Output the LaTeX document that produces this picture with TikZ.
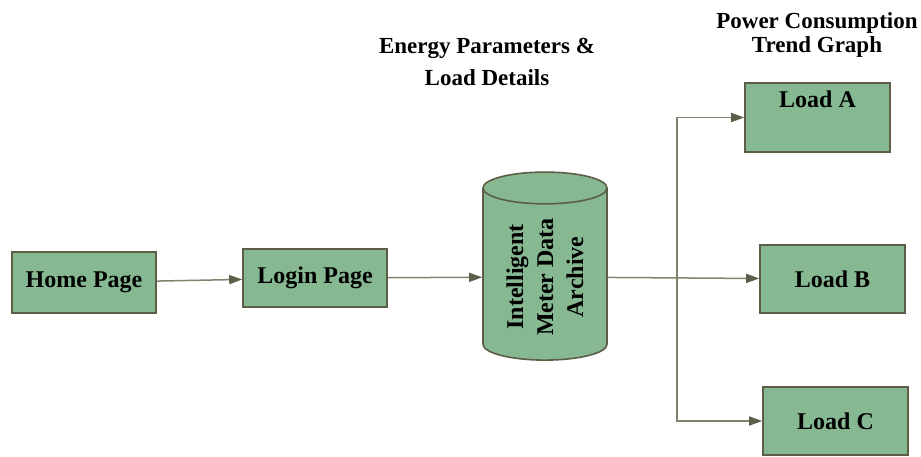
\documentclass[tikz,border=0pt]{standalone}
\usepackage{fontspec}
\setmainfont{Liberation Serif}
\usepackage{xcolor}
\usepackage{tikz}
\usetikzlibrary{arrows.meta,shapes.geometric,calc,positioning}
\definecolor{boxgreen}{RGB}{134,184,145}
\definecolor{boxedge}{RGB}{94,94,72}
\definecolor{linegray}{RGB}{130,130,110}
\begin{document}
\begin{tikzpicture}[x=1pt,y=-1pt,>={Triangle[length=13pt,width=9pt]},
	box/.style={draw=boxedge,fill=boxgreen,line width=1.6pt,minimum width=145pt,
		font=\fontsize{24}{28}\selectfont\bfseries},
	conn/.style={draw=linegray,line width=1.5pt,-{Triangle[length=13pt,width=9pt,color=boxedge]}},
	caption/.style={align=center,font=\fontsize{23}{24}\selectfont\bfseries}]
\useasboundingbox (0,0) rectangle (921,457);

\node[box,minimum width=144pt,minimum height=61pt] (home)  at (84,282.5) {Home Page};
\node[box,minimum width=144pt,minimum height=58pt] (login) at (315,278)  {Login Page};
\node[box,cylinder,rotate=90,aspect=0.38,minimum width=124pt,minimum height=188pt,align=center,
	font=\fontsize{24}{30}\selectfont\bfseries] (arch) at (545,277)
	{Intelligent\\Meter Data\\Archive};
\node[box,minimum height=69pt,text depth=36pt] (loadA) at (817.5,117.5) {Load A};
\node[box,minimum height=68pt] (loadB) at (832.5,279) {Load B};
\node[box,minimum height=68pt] (loadC) at (835.5,421) {Load C};

\node[caption,font=\fontsize{23}{32}\selectfont\bfseries] (params) at (487,62) {Energy Parameters \&\\Load Details};
\node[caption] (trend) at (817,35) {Power Consumption\\Trend Graph};

\coordinate (split) at (677,280);
\draw[conn] (home) -- (login);
\draw[conn] (login) -- (arch);
\draw[conn] (arch) -- (loadB);
\draw[conn] (split) |- (loadA);
\draw[conn] (split) |- (loadC);
\end{tikzpicture}
\end{document}
